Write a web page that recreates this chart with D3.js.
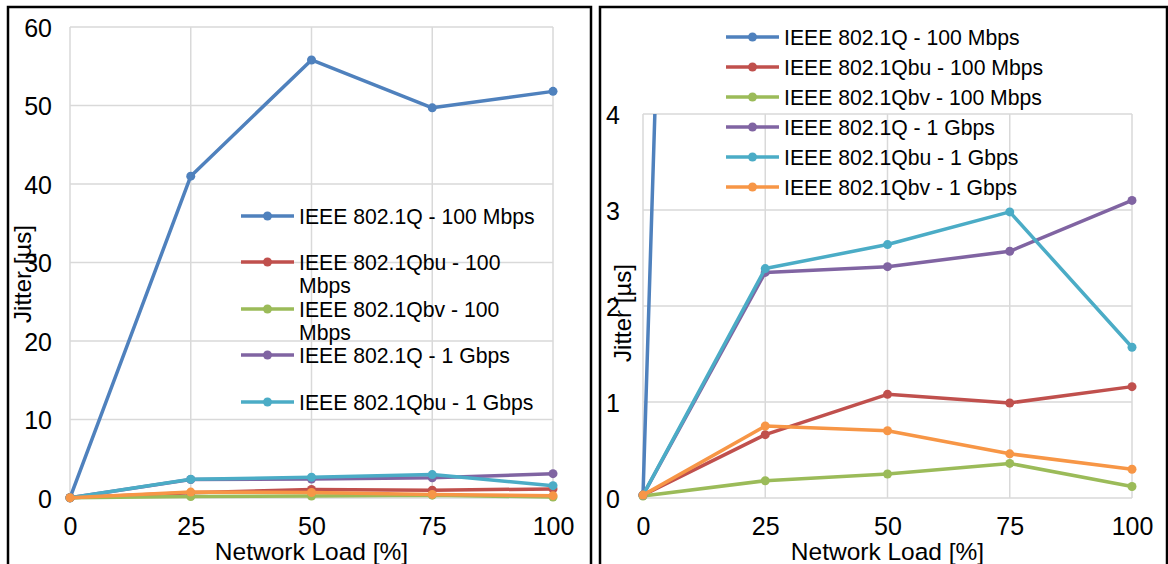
<!DOCTYPE html>
<html>
<head>
<meta charset="utf-8">
<script src="https://cdn.jsdelivr.net/npm/d3@7"></script>
<style>
  html, body { margin: 0; padding: 0; background: #fff; }
  svg { display: block; font-family: "Liberation Sans", Arial, sans-serif; }
</style>
</head>
<body>
<svg id="chart" width="1168" height="564"></svg>
<script>
// Network load levels (x axis)
const loads = [0, 25, 50, 75, 100];

// Jitter in microseconds for each configuration
const q100   = [0.03, 41.0, 55.8, 49.7, 51.8];
const qbu100 = [0.03, 0.66, 1.08, 0.99, 1.16];
const qbv100 = [0.02, 0.18, 0.25, 0.36, 0.12];
const q1g    = [0.03, 2.35, 2.41, 2.57, 3.10];
const qbu1g  = [0.03, 2.39, 2.64, 2.98, 1.57];
const qbv1g  = [0.03, 0.75, 0.70, 0.46, 0.30];

const seriesNames = [
  "IEEE 802.1Q - 100 Mbps",
  "IEEE 802.1Qbu - 100 Mbps",
  "IEEE 802.1Qbv - 100 Mbps",
  "IEEE 802.1Q - 1 Gbps",
  "IEEE 802.1Qbu - 1 Gbps",
  "IEEE 802.1Qbv - 1 Gbps"
];
const seriesValues = [q100, qbu100, qbv100, q1g, qbu1g, qbv1g];
const seriesColors = ["#4f81bd", "#c0504d", "#9bbb59", "#8064a2", "#4bacc6", "#f79646"];

const leftTicks = [0, 10, 20, 30, 40, 50, 60];
const rightTicks = [0, 1, 2, 3, 4];

const series = seriesNames.map((name, i) => ({
  name, color: seriesColors[i],
  points: loads.map((x, j) => ({ x, y: seriesValues[i][j] }))
}));

const svg = d3.select("#chart");

function panel(opts) {
  const g = svg.append("g");
  const x = d3.scaleLinear().domain([0, 100]).range([opts.x0, opts.x1]);
  const y = d3.scaleLinear().domain([0, opts.ymax]).range([opts.y0, opts.y1]);

  // frame
  g.append("rect")
    .attr("x", opts.frame[0]).attr("y", opts.frame[1])
    .attr("width", opts.frame[2]).attr("height", opts.frame[3])
    .attr("fill", "none").attr("stroke", "#000").attr("stroke-width", 2.5);

  // gridlines
  g.append("g").selectAll("line").data(opts.yticks).join("line")
    .attr("x1", opts.x0).attr("x2", opts.x1)
    .attr("y1", d => y(d)).attr("y2", d => y(d))
    .attr("stroke", "#d9d9d9").attr("stroke-width", 1.5);
  g.append("g").selectAll("line").data(loads).join("line")
    .attr("x1", d => x(d)).attr("x2", d => x(d))
    .attr("y1", opts.y0).attr("y2", opts.y1)
    .attr("stroke", "#d9d9d9").attr("stroke-width", 1.5);

  // axes (labels only, no domain path)
  const xAxis = g.append("g").attr("transform", `translate(0,${opts.y0})`)
    .call(d3.axisBottom(x).tickValues(loads).tickSize(0).tickFormat(d3.format("d")));
  const yAxis = g.append("g").attr("transform", `translate(${opts.x0},0)`)
    .call(d3.axisLeft(y).tickValues(opts.yticks).tickSize(0).tickPadding(opts.ypad).tickFormat(d3.format("d")));
  [xAxis, yAxis].forEach(a => {
    a.select(".domain").remove();
    a.selectAll("text").attr("font-size", 25).attr("fill", "#000")
      .attr("font-family", "'Liberation Sans', Arial, sans-serif");
  });
  xAxis.selectAll("text").attr("dy", 0).attr("y", 37);
  yAxis.selectAll("text").attr("dy", "0.36em");

  // axis titles
  g.append("text")
    .attr("x", (opts.x0 + opts.x1) / 2).attr("y", 560)
    .attr("text-anchor", "middle").attr("font-size", 24.5).text("Network Load [%]");
  g.append("text")
    .attr("transform", `translate(${opts.ytitleX},${opts.ytitleY}) rotate(-90)`)
    .attr("text-anchor", "middle").attr("font-size", 24).text("Jitter [µs]");

  // series
  const clipId = "clip" + opts.id;
  svg.append("clipPath").attr("id", clipId).append("rect")
    .attr("x", opts.x0 - 8).attr("y", opts.y1)
    .attr("width", opts.x1 - opts.x0 + 16).attr("height", opts.y0 - opts.y1 + 8);
  const plot = g.append("g").attr("clip-path", `url(#${clipId})`);
  const line = d3.line().x(d => x(d.x)).y(d => y(d.y));
  series.forEach(s => {
    plot.append("path").datum(s.points)
      .attr("d", line).attr("fill", "none")
      .attr("stroke", s.color).attr("stroke-width", 3.5).attr("stroke-linejoin", "round");
    plot.selectAll(null).data(s.points.filter(p => p.y <= opts.ymax)).join("circle")
      .attr("cx", d => x(d.x)).attr("cy", d => y(d.y)).attr("r", 4.5)
      .attr("fill", s.color);
  });

  // legend
  const lg = g.append("g");
  opts.legend.forEach((item, i) => {
    const s = series[i];
    const ly = item.y;
    lg.append("line")
      .attr("x1", opts.legX).attr("x2", opts.legX + 53)
      .attr("y1", ly).attr("y2", ly)
      .attr("stroke", s.color).attr("stroke-width", 3.5);
    lg.append("circle").attr("cx", opts.legX + 26.5).attr("cy", ly).attr("r", 4.5).attr("fill", s.color);
    const t = lg.append("text").attr("x", opts.legX + 58).attr("y", ly + 7.5)
      .attr("font-size", 21.2).attr("fill", "#000");
    item.lines.forEach((ln, k) => {
      t.append("tspan").attr("x", opts.legX + 58).attr("dy", k === 0 ? 0 : 23).text(ln);
    });
  });
}

panel({
  id: "L", x0: 70, x1: 553, y0: 498, y1: 27, ymax: 60, yticks: leftTicks, ypad: 18,
  frame: [8, 7, 583, 570], ytitleX: 31, ytitleY: 274,
  legX: 241,
  legend: [
    { y: 216, lines: ["IEEE 802.1Q - 100 Mbps"] },
    { y: 262, lines: ["IEEE 802.1Qbu - 100", "Mbps"] },
    { y: 309, lines: ["IEEE 802.1Qbv - 100", "Mbps"] },
    { y: 355, lines: ["IEEE 802.1Q - 1 Gbps"] },
    { y: 402, lines: ["IEEE 802.1Qbu - 1 Gbps"] }
  ]
});

panel({
  id: "R", x0: 643, x1: 1132, y0: 498, y1: 114, ymax: 4, yticks: rightTicks, ypad: 23,
  frame: [600, 7, 567, 570], ytitleX: 631, ytitleY: 313,
  legX: 726,
  legend: [
    { y: 37, lines: ["IEEE 802.1Q - 100 Mbps"] },
    { y: 67, lines: ["IEEE 802.1Qbu - 100 Mbps"] },
    { y: 97, lines: ["IEEE 802.1Qbv - 100 Mbps"] },
    { y: 127, lines: ["IEEE 802.1Q - 1 Gbps"] },
    { y: 157, lines: ["IEEE 802.1Qbu - 1 Gbps"] },
    { y: 187, lines: ["IEEE 802.1Qbv - 1 Gbps"] }
  ]
});
</script>
</body>
</html>
